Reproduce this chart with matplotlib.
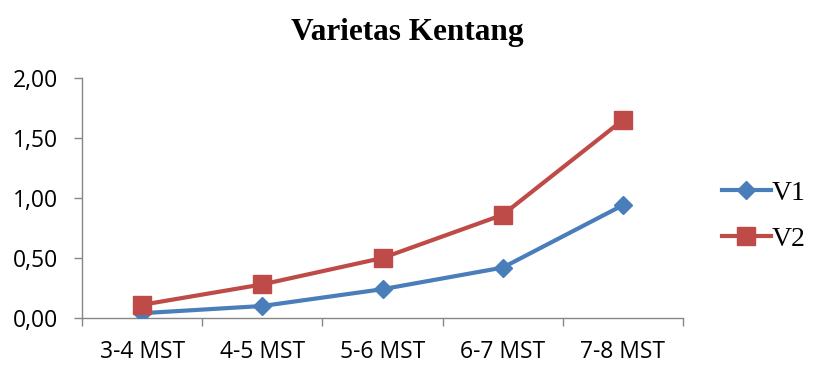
import matplotlib
matplotlib.use("Agg")
import matplotlib.pyplot as plt
import numpy as np

categories = ["3-4 MST", "4-5 MST", "5-6 MST", "6-7 MST", "7-8 MST"]
v1 = [0.04, 0.10, 0.24, 0.42, 0.94]
v2 = [0.11, 0.28, 0.50, 0.86, 1.65]
yticks = [0.0, 0.5, 1.0, 1.5, 2.0]
ytick_labels = ["0,00", "0,50", "1,00", "1,50", "2,00"]

fig = plt.figure(figsize=(8.15, 3.65), dpi=100)
ax = fig.add_axes([82/815, 47/365, 601/815, 240/365])

x = np.arange(len(categories))
ax.plot(x, v1, color="#4A7EBB", lw=3.0, marker="D", markersize=9, label="V1", zorder=3)
ax.plot(x, v2, color="#BE4B48", lw=3.0, marker="s", markersize=13, label="V2", zorder=3)

ax.set_xlim(-0.5, len(categories) - 0.5)
ax.set_ylim(0, 2.0)
ax.set_yticks(yticks)
ax.set_yticklabels(ytick_labels)
ax.set_xticks(x)
ax.set_xticklabels(categories)
ax.set_xticks(np.arange(-0.5, len(categories), 1.0), minor=True)

for s in ["top", "right"]:
    ax.spines[s].set_visible(False)
for s in ["left", "bottom"]:
    ax.spines[s].set_color("#868686")
    ax.spines[s].set_linewidth(1.0)

ax.tick_params(axis="x", which="major", length=0, pad=16, labelsize=16.5)
ax.tick_params(axis="x", which="minor", length=6, color="#868686", width=1.0)
ax.tick_params(axis="y", length=6, color="#868686", width=1.0, pad=11, labelsize=16.5)
for lab in ax.get_xticklabels() + ax.get_yticklabels():
    lab.set_family(["Open Sans", "DejaVu Sans"])

fig.text(0.5, 0.91, "Varietas Kentang", ha="center", va="center",
         fontsize=22.5, fontweight="bold", family="Liberation Serif")

leg = fig.legend(loc="center left", bbox_to_anchor=(722/815, 1 - 216/365),
                 frameon=False, prop={"family": "Liberation Serif", "size": 20},
                 handlelength=1.75, labelspacing=0.75, handletextpad=0.05, borderaxespad=0,
                 borderpad=0)

fig.savefig("out.png", dpi=100)
